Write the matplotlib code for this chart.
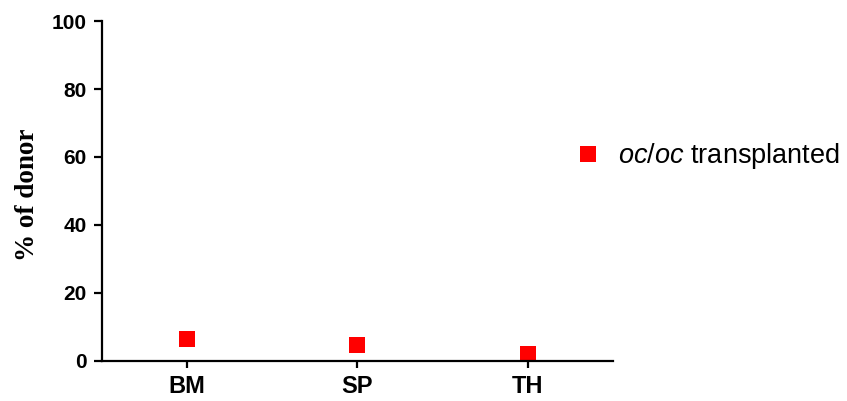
import matplotlib
matplotlib.use("Agg")
import matplotlib.pyplot as plt

# data
tissues = ["BM", "SP", "TH"]
donor_pct = [6.5, 4.6, 2.0]
yticks = [0, 20, 40, 60, 80, 100]
series_label = "$\\it{oc/oc}$ transplanted"

plt.rcParams['font.family'] = ['Liberation Sans', 'DejaVu Sans']
plt.rcParams['mathtext.fontset'] = 'custom'
plt.rcParams['mathtext.rm'] = 'Liberation Sans'
plt.rcParams['mathtext.it'] = 'Liberation Sans:italic'

fig = plt.figure(figsize=(8.47, 4.01), dpi=100)
ax = fig.add_axes([0.1204, 0.0998, 0.6033, 0.8478])

xs = list(range(len(tissues)))
ax.plot(xs, donor_pct, linestyle="none", marker="s", markersize=11,
        color="#ff0000", markeredgewidth=0, clip_on=False, label=series_label)

ax.set_xlim(-0.5, 2.5)
ax.set_ylim(0, 100)
ax.set_xticks(xs)
ax.set_xticklabels(tissues, fontweight="bold", fontsize=17)
ax.set_yticks(yticks)
ax.set_yticklabels([str(v) for v in yticks], fontweight="bold", fontsize=15)

for s in ["top", "right"]:
    ax.spines[s].set_visible(False)
for s in ["left", "bottom"]:
    ax.spines[s].set_linewidth(1.6)
ax.tick_params(axis="y", length=6, width=1.6, pad=5)
ax.tick_params(axis="x", length=5, width=1.6, pad=5)

ax.set_ylabel("% of donor", fontfamily="Liberation Serif", fontweight="bold",
              fontsize=19.5)
ax.yaxis.set_label_coords(-0.121, 0.49)

fig.legend(loc="center left", bbox_to_anchor=(580.5 / 847, 0.611), frameon=False,
           fontsize=19.5, handlelength=0.55, handletextpad=0.83,
           borderpad=0, borderaxespad=0)

fig.savefig("out.png", dpi=100)
